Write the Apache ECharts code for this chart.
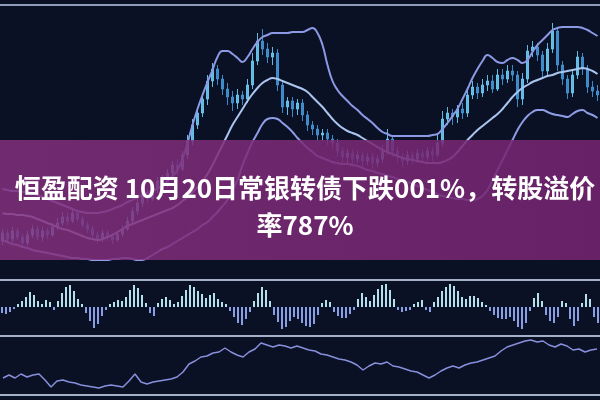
<!DOCTYPE html>
<html>
<head>
<meta charset="utf-8">
<script src="https://cdn.jsdelivr.net/npm/echarts@6/dist/echarts.min.js"></script>
<style>html,body{margin:0;padding:0;background:#0a1124;}#c{width:600px;height:400px;}</style>
</head>
<body>
<div id="c"></div>
<script>
const titleText = '恒盈配资 10月20日常银转债下跌001%，转股溢价\n率787%';

// price candles [open, close, low, high]
const candles = [
[34,42,30,46],[42,36,32,45],[36,44,33,48],[44,38,35,47],[38,32,28,41],[32,40,29,44],[40,46,37,50],[46,38,35,49],[38,44,34,48],[44,40,36,47],
[40,48,38,52],[48,52,45,57],[52,58,49,63],[58,54,50,62],[54,62,52,66],[62,56,53,65],[56,50,47,59],[50,46,42,53],[46,40,36,49],[40,36,32,43],
[36,42,33,45],[42,38,34,45],[38,35,31,42],[35,41,33,44],[41,46,38,50],[46,54,44,58],[54,64,51,68],[64,72,60,76],[72,80,68,84],[80,76,72,86],
[76,86,74,90],[86,94,82,98],[94,90,86,100],[90,102,88,106],[102,110,98,114],[110,106,100,116],[106,120,104,124],[120,134,116,140],[134,150,130,156],[150,162,146,168],
[162,176,158,182],[176,194,170,200],[194,206,188,212],[206,196,190,210],[196,186,180,200],[186,178,170,192],[178,172,164,184],[172,180,166,186],[180,176,170,184],[176,190,172,196],
[190,214,186,222],[214,234,210,242],[234,226,220,246],[226,218,212,232],[218,222,210,228],[222,190,184,226],[190,168,162,194],[168,174,160,178],[174,166,158,178],[166,172,160,176],
[172,160,154,176],[160,150,144,164],[150,146,140,154],[146,140,134,150],[140,142,134,146],[142,136,130,146],[136,132,126,140],[132,124,118,136],[124,118,112,128],[118,122,112,126],
[122,116,110,126],[116,120,112,124],[120,114,108,124],[114,118,110,122],[118,112,106,122],[112,116,108,120],[116,124,112,130],[124,136,120,146],[136,124,118,140],[124,118,112,128],
[118,114,108,122],[114,120,110,124],[120,116,110,124],[116,122,112,126],[122,118,112,126],[118,124,114,128],[124,120,114,128],[120,132,118,140],[132,156,128,164],[156,162,150,168],
[162,158,150,166],[158,166,152,170],[166,162,156,172],[162,180,158,188],[180,188,176,194],[188,182,176,192],[182,190,178,196],[190,194,184,200],[194,186,182,200],[186,200,184,206],
[200,196,190,206],[196,204,192,210],[204,200,194,210],[200,176,168,204],[176,196,170,202],[196,224,192,230],[224,228,218,234],[228,220,214,232],[220,204,198,224],[204,226,200,232],
[226,244,222,252],[244,210,204,248],[210,196,190,214],[196,182,176,200],[182,200,178,206],[200,218,196,224],[218,206,200,222],[206,188,182,210],[188,184,178,194],[184,180,174,190]
];

const upperBand = [
86,85,84,84,83,83,82,80,78,76,74,72,70,68,66,64,63,62,62,62,
63,64,66,68,70,73,75,78,80,82,84,86,90,94,99,105,116,132,150,166,
180,193,205,218,224,224,221,217,213,218,226,233,238,240,242,242,242,242,243,243,
243,245,247,242,230,210,194,185,179,174,169,165,160,156,152,147,143,141,139,139,
139,139,139,139,139,139,140,141,146,152,159,166,176,186,197,206,214,220,217,213,
212,215,217,215,212,215,223,230,235,240,245,247,248,248,248,248,247,245,242,239
];
const midBand = [
62,61,61,60,60,59,58,56,54,52,50,48,46,45,43,41,39,37,36,35,
36,38,40,43,46,49,51,53,55,57,59,61,63,65,67,70,74,78,83,88,
94,101,110,120,130,140,150,158,166,174,181,187,192,195,197,196,194,192,190,188,
186,183,178,173,168,162,156,151,147,144,142,140,137,134,131,128,125,123,121,119,
117,116,115,114,113,112,112,112,113,115,118,123,129,135,140,145,149,153,157,161,
166,172,178,183,187,190,193,195,197,199,200,202,203,204,205,206,207,206,204,201
];
const lowerBand = [
35,33,31,30,28,27,25,24,23,22,21,20,19,18,17,17,16,16,15,15,
15,15,16,16,17,17,16,15,15,17,20,23,26,28,31,34,37,40,43,46,
50,53,58,63,69,75,85,95,110,122,133,142,151,156,157,156,152,148,143,137,
132,127,123,119,117,115,113,112,111,111,110,109,107,105,104,102,101,99,98,96,
94,93,91,89,87,85,83,81,79,78,77,76,76,75,75,76,79,85,95,105,
115,125,135,145,153,159,163,165,165,163,161,160,159,158,161,164,165,162,160,157
];

// oscillator histogram
const macd = [
-6,-7,-5,-2,3,6,10,15,12,6,3,7,5,-3,6,14,20,22,16,8,
3,-6,-14,-21,-17,-9,-3,3,5,7,6,10,17,22,19,12,4,-6,-9,4,
8,10,7,3,5,11,17,22,20,16,13,9,12,14,8,5,3,-4,-10,-16,
-18,-12,-5,6,14,20,17,6,-8,-15,-22,-20,-14,-10,-12,-16,-19,-20,-17,-8,
4,7,5,-5,-9,-11,-11,-7,-3,8,14,10,6,12,18,22,23,17,8,-3,
-5,-4,-3,3,5,7,-3,-5,5,10,16,20,23,21,16,10,8,11,11,9,
5,2,-4,-8,-11,-12,-12,-10,-14,-20,-22,-16,-4,9,14,6,-8,-14,-16,-10,
6,4,-12,-19,-14,4,13,8,-10,-16
];

// lower indicator line
const lineVals = [
17,20,17,21,18,20,21,15,8,14,15,13,12,10,9,8,7,9,10,9,
8,14,21,13,11,13,14,15,16,18,23,31,34,38,39,42,43,47,43,40,
38,43,46,52,50,48,50,49,47,49,47,45,44,41,40,38,36,35,33,30,
25,29,32,31,33,29,28,26,24,23,20,17,20,24,27,29,27,30,32,33,
35,37,39,44,48,50,52,54,55,53,54,50,48,51,49,45,46,43,45,46
];

const cat1 = candles.map((d, i) => 'd' + (i + 1));
const cat2 = macd.map((d, i) => 'm' + (i + 1));
const cat3 = lineVals.map((d, i) => 'l' + (i + 1));

const chart = echarts.init(document.getElementById('c'), null, {renderer: 'canvas'});
const hidden = {show: false};
const lineCol = '#a4b0c8';
chart.setOption({
  backgroundColor: '#0a1124',
  animation: false,
  title: {
    text: titleText,
    left: 300,
    top: 165,
    z: 300,
    textAlign: 'center',
    textStyle: {
      color: '#ffffff',
      fontSize: 26,
      fontWeight: 'bold',
      lineHeight: 37,
      fontFamily: 'Noto Sans CJK SC'
    }
  },
  grid: [
    {left: 0, right: 0, top: 7, height: 268},
    {left: 0, right: 0, top: 282, height: 50},
    {left: 0, right: 0, top: 338, height: 57}
  ],
  xAxis: [
    {type: 'category', gridIndex: 0, data: cat1, boundaryGap: true, axisLine: hidden, axisTick: hidden, axisLabel: hidden, splitLine: hidden},
    {type: 'category', gridIndex: 1, data: cat2, boundaryGap: true, axisLine: hidden, axisTick: hidden, axisLabel: hidden, splitLine: hidden},
    {type: 'category', gridIndex: 2, data: cat3, boundaryGap: true, axisLine: hidden, axisTick: hidden, axisLabel: hidden, splitLine: hidden}
  ],
  yAxis: [
    {type: 'value', gridIndex: 0, min: 0, max: 268, show: false},
    {type: 'value', gridIndex: 1, min: -25, max: 25, show: false},
    {type: 'value', gridIndex: 2, min: 0, max: 57, show: false}
  ],
  graphic: [
    {type: 'rect', z: 100, shape: {x: 0, y: 140, width: 600, height: 120},
      style: {fill: new echarts.graphic.LinearGradient(0, 0, 1, 0, [
        {offset: 0, color: 'rgba(132,48,126,0.84)'},
        {offset: 1, color: 'rgba(116,36,112,0.88)'}
      ])}},
    {type: 'line', z: 90, shape: {x1: 0, y1: 5, x2: 600, y2: 5}, style: {stroke: '#8e9cb8', lineWidth: 2}},
    {type: 'line', z: 90, shape: {x1: 0, y1: 280, x2: 600, y2: 280}, style: {stroke: lineCol, lineWidth: 2}},
    {type: 'line', z: 90, shape: {x1: 0, y1: 336, x2: 600, y2: 336}, style: {stroke: lineCol, lineWidth: 2}},
    {type: 'line', z: 90, shape: {x1: 0, y1: 395, x2: 600, y2: 395}, style: {stroke: lineCol, lineWidth: 2}}
  ],
  series: [
    {type: 'candlestick', xAxisIndex: 0, yAxisIndex: 0, data: candles, barWidth: 2,
      itemStyle: {color: '#6ccbf4', color0: '#4596d8', borderColor: '#6ccbf4', borderColor0: '#4596d8', borderWidth: 1, opacity: 0.9}},
    {type: 'line', xAxisIndex: 0, yAxisIndex: 0, data: upperBand, smooth: true, symbol: 'none',
      lineStyle: {color: '#8c99e4', width: 2}},
    {type: 'line', xAxisIndex: 0, yAxisIndex: 0, data: midBand, smooth: true, symbol: 'none',
      lineStyle: {color: '#aac6f0', width: 2}},
    {type: 'line', xAxisIndex: 0, yAxisIndex: 0, data: lowerBand, smooth: true, symbol: 'none',
      lineStyle: {color: '#8f9ce6', width: 2}},
    {type: 'bar', xAxisIndex: 1, yAxisIndex: 1, data: macd, barWidth: 2,
      itemStyle: {color: function (p) { return p.value >= 0 ? '#b4e0ee' : '#8a9ee6'; }}},
    {type: 'line', xAxisIndex: 2, yAxisIndex: 2, data: lineVals, symbol: 'none',
      lineStyle: {color: '#8890dc', width: 1.5}}
  ]
});
</script>
</body>
</html>
